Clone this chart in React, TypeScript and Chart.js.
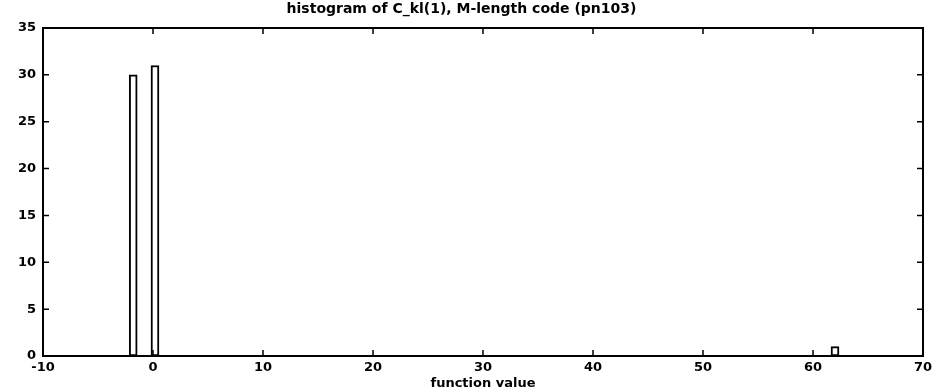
import React, { useEffect, useRef } from "react";
import { Chart, registerables } from "chart.js";

Chart.register(...registerables);

const titleText = "histogram of C_kl(1), M-length code (pn103)";
const xLabel = "function value";
const binCenters = [-1.8, 0.18, 62];
const counts = [30, 31, 1];
const xMin = -10;
const xMax = 70;
const xStep = 10;
const yMin = 0;
const yMax = 35;
const yStep = 5;

const FONT = "'DejaVu Sans', 'Liberation Sans', Arial, sans-serif";

const boxPlugin = {
  id: "matlabBox",
  afterDraw(chart: any) {
    const { ctx, chartArea } = chart;
    const { left, right, top, bottom } = chartArea;
    const xs = chart.scales.x;
    const ys = chart.scales.y;
    ctx.save();
    ctx.strokeStyle = "#000";
    ctx.lineWidth = 2;
    ctx.strokeRect(left, top, right - left, bottom - top);
    ctx.lineWidth = 1.5;
    const tl = 6;
    ctx.beginPath();
    xs.ticks.forEach((t: any) => {
      const px = xs.getPixelForValue(t.value);
      ctx.moveTo(px, bottom);
      ctx.lineTo(px, bottom - tl);
      ctx.moveTo(px, top);
      ctx.lineTo(px, top + tl);
    });
    ys.ticks.forEach((t: any) => {
      const py = ys.getPixelForValue(t.value);
      ctx.moveTo(left, py);
      ctx.lineTo(left + tl, py);
      ctx.moveTo(right, py);
      ctx.lineTo(right - tl, py);
    });
    ctx.stroke();
    ctx.restore();
  },
};

export default function App() {
  const ref = useRef<HTMLCanvasElement | null>(null);
  useEffect(() => {
    document.body.style.margin = "0";
    const canvas = ref.current;
    if (!canvas) return;
    const points = binCenters.map((c, i) => ({ x: c, y: counts[i] }));
    const tickFont = { family: FONT, size: 13, weight: "bold" as const };
    const chart = new Chart(canvas, {
      type: "bar",
      data: {
        datasets: [
          {
            data: points as any,
            backgroundColor: "#ffffff",
            borderColor: "#000000",
            borderWidth: 2,
            barThickness: 8,
            borderSkipped: false,
          },
        ],
      },
      options: {
        animation: false,
        responsive: false,
        layout: { padding: { left: 0, right: 18, top: 0, bottom: 0 } },
        plugins: {
          legend: { display: false },
          tooltip: { enabled: false },
          title: {
            display: true,
            text: titleText,
            color: "#000",
            font: { family: FONT, size: 14, weight: "bold" },
            padding: { top: 1, bottom: 10.2 },
          },
        },
        scales: {
          x: {
            type: "linear",
            min: xMin,
            max: xMax,
            offset: false,
            ticks: {
              stepSize: xStep,
              color: "#000",
              font: tickFont,
              padding: 4,
              maxRotation: 0,
            },
            grid: { display: false, drawTicks: false },
            border: { display: false },
            title: {
              display: true,
              text: xLabel,
              color: "#000",
              font: tickFont,
              padding: { top: 0, bottom: 0 },
            },
            afterFit: (s: any) => {
              s.height = 35;
            },
          },
          y: {
            min: yMin,
            max: yMax,
            ticks: {
              stepSize: yStep,
              color: "#000",
              font: tickFont,
              padding: 7,
            },
            grid: { display: false, drawTicks: false },
            border: { display: false },
            afterFit: (s: any) => {
              s.width = 43;
            },
          },
        },
      },
      plugins: [boxPlugin],
    });
    return () => chart.destroy();
  }, []);
  return (
    <canvas
      ref={ref}
      width={941}
      height={391}
      style={{ display: "block", width: 941, height: 391 }}
    />
  );
}
